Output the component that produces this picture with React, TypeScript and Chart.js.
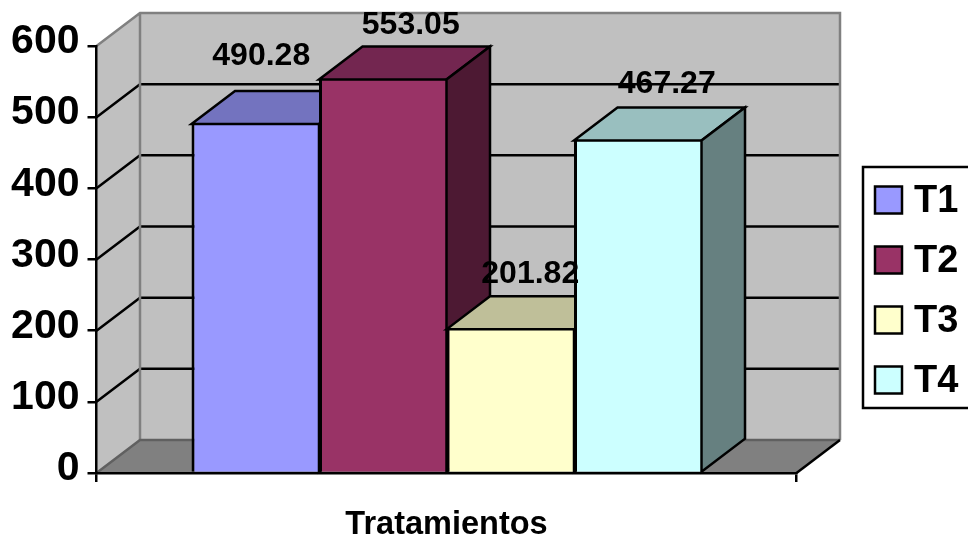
import { useEffect, useRef } from "react";
import Chart from "chart.js/auto";

// Values
const categories = ["Tratamientos"];
const seriesNames = ["T1", "T2", "T3", "T4"];
const seriesValues = [490.28, 553.05, 201.82, 467.27];
const valueTickStep = 100;
const valueMax = 600;

// Colours per series: front, top and side faces
const frontColors = ["#9999FF", "#993366", "#FFFFCC", "#CCFFFF"];
const topColors = ["#7373BF", "#732650", "#BFBF99", "#99BFBF"];
const sideColors = ["#4D4D80", "#4D1933", "#808066", "#668080"];

// Value labels sit above each box, nudged by these amounts
const labelNudgeX = [6, 28, 20, 29];
const labelNudgeY = [-68, -54, -55, -56];

const FONT = '"Liberation Sans", Arial, sans-serif';
const DEPTH_X = 43.5;
const DEPTH_Y = 33;
const LINE = 2.5;
const WALL_FILL = "#C0C0C0";
const WALL_EDGE = "#808080";

function polygon(ctx: CanvasRenderingContext2D, pts: number[][]) {
  ctx.beginPath();
  pts.forEach(([x, y], i) => (i ? ctx.lineTo(x, y) : ctx.moveTo(x, y)));
  ctx.closePath();
}

// Back wall, side wall and floor of the 3D box, with the gridlines
const wallsPlugin = {
  id: "walls",
  beforeDraw(chart: any) {
    const { ctx, chartArea: a, scales } = chart;
    const yScale = scales.y;
    const base = yScale.getPixelForValue(0);
    const top = yScale.getPixelForValue(valueMax);
    ctx.save();
    ctx.lineWidth = LINE;

    ctx.fillStyle = WALL_FILL;
    ctx.fillRect(a.left + DEPTH_X, top - DEPTH_Y, a.right - a.left, base - top);
    polygon(ctx, [
      [a.left, base],
      [a.left + DEPTH_X, base - DEPTH_Y],
      [a.left + DEPTH_X, top - DEPTH_Y],
      [a.left, top],
    ]);
    ctx.fill();

    ctx.fillStyle = "#808080";
    polygon(ctx, [
      [a.left, base],
      [a.left + DEPTH_X, base - DEPTH_Y],
      [a.right + DEPTH_X, base - DEPTH_Y],
      [a.right, base],
    ]);
    ctx.fill();

    ctx.strokeStyle = "#000000";
    yScale.ticks.forEach((t: any) => {
      if (t.value === 0 || t.value === valueMax) return;
      const y = yScale.getPixelForValue(t.value);
      ctx.beginPath();
      ctx.moveTo(a.left, y);
      ctx.lineTo(a.left + DEPTH_X, y - DEPTH_Y);
      ctx.lineTo(a.right + DEPTH_X, y - DEPTH_Y);
      ctx.stroke();
    });

    ctx.strokeStyle = WALL_EDGE;
    ctx.beginPath();
    ctx.moveTo(a.left, top);
    ctx.lineTo(a.left + DEPTH_X, top - DEPTH_Y);
    ctx.lineTo(a.right + DEPTH_X, top - DEPTH_Y);
    ctx.lineTo(a.right + DEPTH_X, base - DEPTH_Y);
    ctx.moveTo(a.left + DEPTH_X, top - DEPTH_Y);
    ctx.lineTo(a.left + DEPTH_X, base - DEPTH_Y);
    ctx.stroke();

    ctx.strokeStyle = "#606060";
    ctx.beginPath();
    ctx.moveTo(a.left, base);
    ctx.lineTo(a.left + DEPTH_X, base - DEPTH_Y);
    ctx.lineTo(a.right + DEPTH_X, base - DEPTH_Y);
    ctx.stroke();

    ctx.strokeStyle = "#000000";
    ctx.beginPath();
    ctx.moveTo(a.right, base);
    ctx.lineTo(a.right + DEPTH_X, base - DEPTH_Y);
    ctx.stroke();
    ctx.restore();
  },
};

// Boxes are painted left to right so nearer faces cover the ones behind them
const boxesPlugin = {
  id: "boxes",
  beforeDatasetsDraw(chart: any) {
    const { ctx } = chart;
    chart.data.datasets.forEach((_: any, i: number) => {
      const bar = chart.getDatasetMeta(i).data[0];
      const { x, y, base, width } = bar.getProps(["x", "y", "base", "width"], true);
      const left = x - width / 2;
      const right = x + width / 2;
      bar.draw(ctx);
      ctx.save();
      ctx.lineWidth = LINE;
      ctx.lineJoin = "miter";
      ctx.strokeStyle = "#000000";
      ctx.fillStyle = topColors[i];
      polygon(ctx, [
        [left, y],
        [left + DEPTH_X, y - DEPTH_Y],
        [right + DEPTH_X, y - DEPTH_Y],
        [right, y],
      ]);
      ctx.fill();
      ctx.stroke();
      ctx.fillStyle = sideColors[i];
      polygon(ctx, [
        [right, y],
        [right + DEPTH_X, y - DEPTH_Y],
        [right + DEPTH_X, base - DEPTH_Y],
        [right, base],
      ]);
      ctx.fill();
      ctx.stroke();
      ctx.restore();
    });
    return false;
  },
};

// Value labels and the legend panel, which runs off the right-hand edge
const annotationsPlugin = {
  id: "annotations",
  afterDraw(chart: any) {
    const { ctx } = chart;
    ctx.save();
    ctx.fillStyle = "#000000";
    ctx.textAlign = "center";
    ctx.textBaseline = "middle";
    ctx.font = `bold 32px ${FONT}`;
    chart.data.datasets.forEach((ds: any, i: number) => {
      const bar = chart.getDatasetMeta(i).data[0];
      const { x, y } = bar.getProps(["x", "y"], true);
      ctx.fillText(ds.data[0].toFixed(2), x + labelNudgeX[i], y + labelNudgeY[i]);
    });

    ctx.strokeStyle = "#000000";
    ctx.lineWidth = LINE;
    ctx.strokeRect(863, 167, 140, 241);
    ctx.textAlign = "left";
    ctx.font = `bold 38px ${FONT}`;
    chart.data.datasets.forEach((ds: any, i: number) => {
      const swatchY = 186.5 + i * 60;
      ctx.fillStyle = ds.backgroundColor;
      ctx.fillRect(875, swatchY, 27, 27);
      ctx.strokeRect(875, swatchY, 27, 27);
      ctx.fillStyle = "#000000";
      ctx.fillText(ds.label, 914, swatchY + 15);
    });
    ctx.restore();
  },
};

export default function App() {
  const canvasRef = useRef<HTMLCanvasElement | null>(null);

  useEffect(() => {
    const chart = new Chart(canvasRef.current!, {
      type: "bar",
      data: {
        labels: categories,
        datasets: seriesNames.map((name, i) => ({
          label: name,
          data: [seriesValues[i]],
          backgroundColor: frontColors[i],
          borderColor: "#000000",
          borderSkipped: false,
          borderWidth: { top: 0, bottom: 0, right: 0, left: 3 },
        })),
      },
      options: {
        animation: false,
        responsive: false,
        events: [],
        layout: { padding: { top: 46, right: 171.5, left: 0, bottom: 0 } },
        datasets: { bar: { categoryPercentage: 0.7286, barPercentage: 1 } },
        plugins: { legend: { display: false }, tooltip: { enabled: false } },
        scales: {
          x: {
            ticks: { display: false },
            border: { color: "#000000", width: LINE, z: 1 },
            grid: { color: "#000000", lineWidth: LINE, tickLength: 9, drawOnChartArea: false, z: 1 },
            title: {
              display: true,
              text: categories[0],
              color: "#000000",
              font: { family: FONT, size: 32.5, weight: "bold" },
              padding: { top: 0, bottom: -5 },
            },
            afterFit(scale: any) {
              scale.height = 67;
            },
          },
          y: {
            min: 0,
            max: valueMax,
            ticks: {
              stepSize: valueTickStep,
              color: "#000000",
              padding: 8,
              labelOffset: -4,
              font: { family: FONT, size: 41, weight: "bold" },
            },
            border: { color: "#000000", width: LINE, z: 1 },
            grid: { color: "#000000", lineWidth: LINE, tickLength: 9, drawOnChartArea: false, z: 1 },
            afterFit(scale: any) {
              scale.width = 96.5;
            },
          },
        },
      },
      plugins: [wallsPlugin, boxesPlugin, annotationsPlugin],
    } as any);
    return () => chart.destroy();
  }, []);

  return (
    <canvas
      ref={canvasRef}
      width={968}
      height={540}
      style={{ position: "fixed", left: 0, top: 0, display: "block", background: "#FFFFFF" }}
    />
  );
}
